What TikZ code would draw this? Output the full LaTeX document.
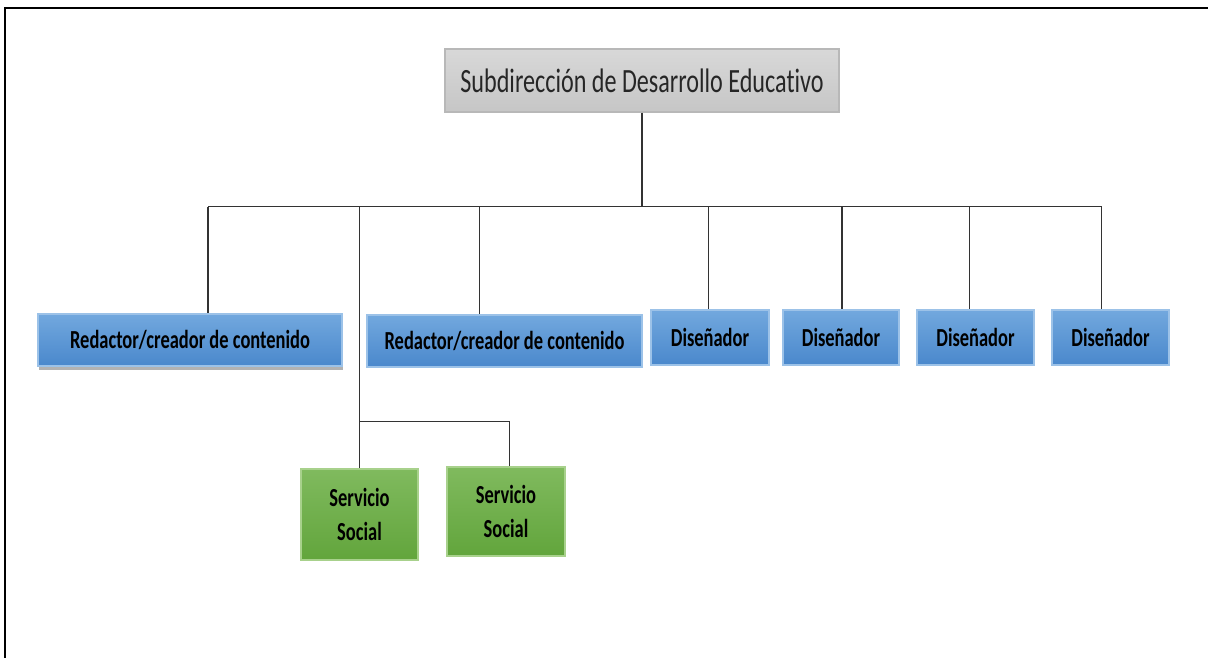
\documentclass[tikz,border=0pt]{standalone}
\usepackage{fontspec}
\setmainfont{Carlito}
\newfontfamily\condfont[FakeStretch=0.71, Ligatures=NoCommon]{Carlito}
\usetikzlibrary{shadows}
\definecolor{linec}{HTML}{333333}
\definecolor{bluetop}{HTML}{72A8DE}
\definecolor{bluebot}{HTML}{4A88CC}
\definecolor{blueedge}{HTML}{9CC2E8}
\definecolor{greentop}{HTML}{80BA5E}
\definecolor{greenbot}{HTML}{62A53C}
\definecolor{greenedge}{HTML}{A8D18C}
\definecolor{graytop}{HTML}{D8D8D8}
\definecolor{graybot}{HTML}{C6C6C6}
\definecolor{grayedge}{HTML}{B8B8B8}
\tikzset{
  box/.style={rectangle, inner sep=0pt, line width=1.2pt, align=center},
  bluebox/.style={box, draw=blueedge, top color=bluetop, bottom color=bluebot,
    font=\condfont\bfseries\fontsize{26}{34}\selectfont, text=black},
  greenbox/.style={box, draw=greenedge, top color=greentop, bottom color=greenbot,
    font=\condfont\bfseries\fontsize{26}{34}\selectfont, text=black},
  graybox/.style={box, draw=grayedge, top color=graytop, bottom color=graybot,
    font=\condfont\fontsize{34}{40}\selectfont, text={black!85}},
  conn/.style={draw=linec, line width=1.9pt},
}
\begin{document}
\begin{tikzpicture}[x=1pt, y=-1pt]
\useasboundingbox (0,0) rectangle (1208,658);
\fill[white] (0,0) rectangle (1208,658);
% frame
\draw[black, line width=2.2pt] (5,658) -- (5,8) -- (1208,8);

% nodes
\node[graybox, minimum width=394pt, minimum height=63pt] (top) at (642,80.5) {Subdirección de Desarrollo Educativo};
\node[bluebox, minimum width=304pt, minimum height=52pt,
  drop shadow={shadow xshift=1pt, shadow yshift=-4pt, opacity=0.3, fill=black}] (r1) at (190,340) {Redactor/creador de contenido};
\node[bluebox, minimum width=275pt, minimum height=52pt] (r2) at (504.5,341) {Redactor/creador de contenido};
\node[bluebox, minimum width=118pt, minimum height=55pt] (d1) at (710,337.5) {Diseñador};
\node[bluebox, minimum width=116pt, minimum height=55pt] (d2) at (841,337.5) {Diseñador};
\node[bluebox, minimum width=117pt, minimum height=55pt] (d3) at (975.5,337.5) {Diseñador};
\node[bluebox, minimum width=117pt, minimum height=55pt] (d4) at (1110.5,337.5) {Diseñador};
\node[greenbox, minimum width=117pt, minimum height=91pt] (s1) at (359.5,514.5) {Servicio\\Social};
\node[greenbox, minimum width=118pt, minimum height=89pt] (s2) at (506,511.5) {Servicio\\Social};

% bus coordinates
\coordinate (bL) at (208,206.5);
\coordinate (bS) at (359.5,206.5);
\coordinate (b2) at (479.5,206.5);
\coordinate (b3) at (708.5,206.5);
\coordinate (b4) at (842,206.5);
\coordinate (b5) at (969.5,206.5);
\coordinate (bR) at (1101.5,206.5);
\coordinate (bT) at (top.south |- bL);
\coordinate (sJ) at (359.5,421.5);
\coordinate (sR) at (509.5,421.5);

% connectors
\draw[conn] (top.south) -- (bT);
\draw[conn] (bL) -- (bR);
\draw[conn] (bL) -- (bL |- r1.north);
\draw[conn] (b2) -- (b2 |- r2.north);
\draw[conn] (b3) -- (b3 |- d1.north);
\draw[conn] (b4) -- (b4 |- d2.north);
\draw[conn] (b5) -- (b5 |- d3.north);
\draw[conn] (bR) -- (bR |- d4.north);
\draw[conn] (bS) -- (bS |- s1.north);
\draw[conn] (sJ) -- (sR) -- (sR |- s2.north);
\end{tikzpicture}
\end{document}
